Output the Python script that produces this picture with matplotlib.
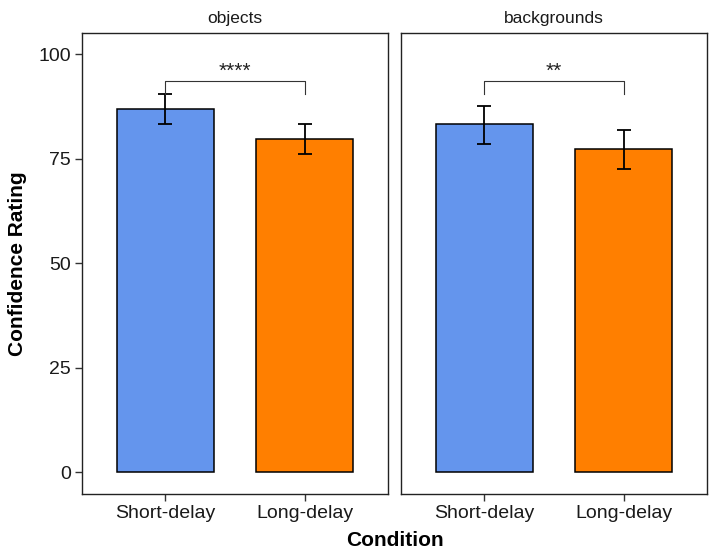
import matplotlib
matplotlib.use("Agg")
import matplotlib.pyplot as plt

plt.rcParams['font.family'] = ['Liberation Sans', 'DejaVu Sans']

panels = ["objects", "backgrounds"]
conditions = ["Short-delay", "Long-delay"]
means = {"objects": [86.8, 79.8], "backgrounds": [83.2, 77.4]}
err_low = {"objects": [83.2, 76.1], "backgrounds": [78.6, 72.6]}
err_high = {"objects": [90.6, 83.3], "backgrounds": [87.7, 82.0]}
sig_labels = {"objects": "****", "backgrounds": "**"}
bracket_y = 93.5
bracket_leg = 90.6
colors = ["#6495ED", "#FF7F00"]

fig = plt.figure(figsize=(7.12, 5.53), dpi=100)
W, H = 712, 553
ax_l = [82, 401]
ax_w = 306
top, bottom = 33, 494

for i, p in enumerate(panels):
    ax = fig.add_axes([ax_l[i] / W, 1 - bottom / H, ax_w / W, (bottom - top) / H])
    x = [1, 2]
    m = means[p]
    lo = [m[j] - err_low[p][j] for j in range(2)]
    hi = [err_high[p][j] - m[j] for j in range(2)]
    ax.bar(x, m, width=0.7, color=colors, edgecolor="black", linewidth=1.1, zorder=2)
    ax.errorbar(x, m, yerr=[lo, hi], fmt="none", ecolor="black", elinewidth=1.3,
                capsize=4.8, capthick=1.3, zorder=3)
    ax.plot([1, 1, 2, 2], [bracket_leg, bracket_y, bracket_y, bracket_leg],
            color="#333333", linewidth=0.8, zorder=3)
    ax.text(1.5, bracket_y + 0.2, sig_labels[p], ha="center", va="bottom",
            fontsize=15, color="#222222")
    ax.set_xlim(0.4, 2.6)
    ax.set_ylim(-5.25, 105.1)
    ax.set_xticks(x)
    ax.set_xticklabels(conditions, fontsize=14, color="#1a1a1a")
    ax.set_yticks([0, 25, 50, 75, 100])
    if i == 0:
        ax.set_yticklabels(["0", "25", "50", "75", "100"], fontsize=14, color="#1a1a1a")
        ax.set_ylabel("Confidence Rating", fontsize=15, fontweight="bold", labelpad=8)
    else:
        ax.tick_params(axis="y", left=False, labelleft=False)
    ax.tick_params(axis="both", direction="out", length=5, width=1, color="#333333", pad=3)
    for s in ax.spines.values():
        s.set_linewidth(1.0)
        s.set_color("#222222")
    ax.set_title(p, fontsize=12.5, pad=7, color="#1a1a1a")

fig.text((82 + 707) / 2 / W, 1 - 540 / H, "Condition", ha="center", va="center",
         fontsize=15, fontweight="bold")

fig.savefig("out.png", dpi=100)
